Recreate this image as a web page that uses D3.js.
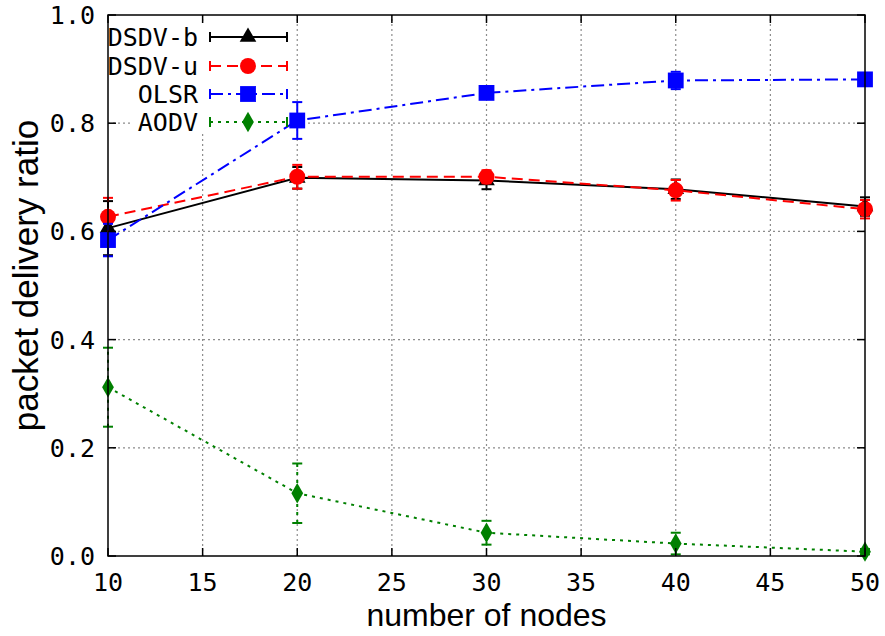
<!DOCTYPE html>
<html>
<head>
<meta charset="utf-8">
<script src="https://cdn.jsdelivr.net/npm/d3@7/dist/d3.min.js"></script>
<style>
    html, body { margin: 0; padding: 0; background: #fff; }
    svg { display: block; }
</style>
</head>
<body>
<div id="chart"></div>
<script>
var nodes = [10, 20, 30, 40, 50];
var xTicks = [10, 15, 20, 25, 30, 35, 40, 45, 50];
var yTicks = [0.0, 0.2, 0.4, 0.6, 0.8, 1.0];

var dsdvB = [0.606, 0.699, 0.694, 0.678, 0.646];
var dsdvBErr = [0.050, 0.020, 0.016, 0.018, 0.017];
var dsdvU = [0.627, 0.701, 0.701, 0.676, 0.641];
var dsdvUErr = [0.035, 0.022, 0.012, 0.019, 0.017];
var olsr = [0.584, 0.805, 0.856, 0.879, 0.881];
var olsrErr = [0.030, 0.034, 0.008, 0.016, 0.006];
var aodv = [0.312, 0.116, 0.043, 0.023, 0.008];
var aodvErr = [0.073, 0.055, 0.022, 0.020, 0.005];

var seriesNames = ["DSDV-b", "DSDV-u", "OLSR", "AODV"];

var width = 885, height = 636;
// note: "top" is taken by window.top, so use plot* names
var plotLeft = 108, plotRight = 865, plotTop = 15, plotBottom = 556;
var monoFont = "'DejaVu Sans Mono', monospace";
var sansFont = "'Liberation Sans', Arial, sans-serif";

var series = [
    {name: seriesNames[0], values: dsdvB, err: dsdvBErr, color: "#000000", dash: null, symbol: d3.symbolTriangle, size: 120},
    {name: seriesNames[1], values: dsdvU, err: dsdvUErr, color: "#ff0000", dash: "11,6", symbol: d3.symbolCircle, size: 200},
    {name: seriesNames[2], values: olsr, err: olsrErr, color: "#0000ff", dash: "13,5,3,5", symbol: d3.symbolSquare, size: 250},
    {name: seriesNames[3], values: aodv, err: aodvErr, color: "#008000", dash: "3,5", symbol: d3.symbolDiamond, size: 120}
];

var x = d3.scaleLinear().domain([10, 50]).range([plotLeft, plotRight]);
var y = d3.scaleLinear().domain([0, 1]).range([plotBottom, plotTop]);

var svg = d3.select("#chart").append("svg")
    .attr("width", width)
    .attr("height", height);

// grid
var grid = svg.append("g")
    .attr("stroke", "#8c8c8c")
    .attr("stroke-width", 1.2)
    .attr("stroke-dasharray", "2,3");
grid.selectAll("line.gx").data(xTicks.slice(1, -1)).enter().append("line")
    .attr("x1", function (d) { return x(d); }).attr("x2", function (d) { return x(d); })
    .attr("y1", plotBottom).attr("y2", plotTop);
grid.selectAll("line.gy").data(yTicks.slice(1, -1)).enter().append("line")
    .attr("y1", function (d) { return y(d); }).attr("y2", function (d) { return y(d); })
    .attr("x1", plotLeft).attr("x2", plotRight);

// opaque key box
var keyRows = [37, 66, 94, 122];
svg.append("rect")
    .attr("x", 133).attr("y", 21)
    .attr("width", 160).attr("height", 113)
    .attr("fill", "#fff");

var line = d3.line()
    .x(function (d, i) { return x(nodes[i]); })
    .y(function (d) { return y(d); });

var capW = 5;

series.forEach(function (s) {
    var g = svg.append("g");

    g.append("path")
        .datum(s.values)
        .attr("d", line)
        .attr("fill", "none")
        .attr("stroke", s.color)
        .attr("stroke-width", 2)
        .attr("stroke-dasharray", s.dash);

    var eb = g.selectAll("g.err").data(s.values).enter().append("g")
        .attr("stroke", s.color)
        .attr("stroke-width", 2);
    eb.append("line")
        .attr("x1", function (d, i) { return x(nodes[i]); })
        .attr("x2", function (d, i) { return x(nodes[i]); })
        .attr("y1", function (d, i) { return y(d - s.err[i]); })
        .attr("y2", function (d, i) { return y(d + s.err[i]); })
        .attr("stroke-dasharray", s.dash);
    eb.append("line")
        .attr("x1", function (d, i) { return x(nodes[i]) - capW; })
        .attr("x2", function (d, i) { return x(nodes[i]) + capW; })
        .attr("y1", function (d, i) { return y(d - s.err[i]); })
        .attr("y2", function (d, i) { return y(d - s.err[i]); });
    eb.append("line")
        .attr("x1", function (d, i) { return x(nodes[i]) - capW; })
        .attr("x2", function (d, i) { return x(nodes[i]) + capW; })
        .attr("y1", function (d, i) { return y(d + s.err[i]); })
        .attr("y2", function (d, i) { return y(d + s.err[i]); });

    g.selectAll("path.pt").data(s.values).enter().append("path")
        .attr("d", d3.symbol().type(s.symbol).size(s.size))
        .attr("transform", function (d, i) { return "translate(" + x(nodes[i]) + "," + y(d) + ")"; })
        .attr("fill", s.color);
});

// legend
var key = svg.append("g");
series.forEach(function (s, i) {
    var ky = keyRows[i];
    key.append("text")
        .attr("x", 198).attr("y", ky)
        .attr("dy", "0.36em")
        .attr("text-anchor", "end")
        .attr("font-family", monoFont)
        .attr("font-size", 25)
        .text(s.name);
    key.append("line")
        .attr("x1", 210).attr("x2", 287)
        .attr("y1", ky).attr("y2", ky)
        .attr("stroke", s.color).attr("stroke-width", 2)
        .attr("stroke-dasharray", s.dash);
    [210, 287].forEach(function (cx) {
        key.append("line")
            .attr("x1", cx).attr("x2", cx)
            .attr("y1", ky - 5).attr("y2", ky + 5)
            .attr("stroke", s.color).attr("stroke-width", 2);
    });
    key.append("path")
        .attr("d", d3.symbol().type(s.symbol).size(s.size))
        .attr("transform", "translate(248," + ky + ")")
        .attr("fill", s.color);
});

// frame and inward ticks
var tickLen = 8;
var axes = svg.append("g").attr("stroke", "#000").attr("stroke-width", 1.5);
axes.append("rect")
    .attr("x", plotLeft).attr("y", plotTop)
    .attr("width", plotRight - plotLeft).attr("height", plotBottom - plotTop)
    .attr("fill", "none");
xTicks.forEach(function (t) {
    axes.append("line").attr("x1", x(t)).attr("x2", x(t)).attr("y1", plotBottom).attr("y2", plotBottom - tickLen);
    axes.append("line").attr("x1", x(t)).attr("x2", x(t)).attr("y1", plotTop).attr("y2", plotTop + tickLen);
});
yTicks.forEach(function (t) {
    axes.append("line").attr("y1", y(t)).attr("y2", y(t)).attr("x1", plotLeft).attr("x2", plotLeft + tickLen);
    axes.append("line").attr("y1", y(t)).attr("y2", y(t)).attr("x1", plotRight).attr("x2", plotRight - tickLen);
});

// tick labels
svg.append("g").selectAll("text").data(xTicks).enter().append("text")
    .attr("x", function (d) { return x(d); })
    .attr("y", 591)
    .attr("text-anchor", "middle")
    .attr("font-family", monoFont)
    .attr("font-size", 25)
    .text(function (d) { return d; });

svg.append("g").selectAll("text").data(yTicks).enter().append("text")
    .attr("x", 95)
    .attr("y", function (d) { return y(d); })
    .attr("dy", "0.36em")
    .attr("text-anchor", "end")
    .attr("font-family", monoFont)
    .attr("font-size", 25)
    .text(function (d) { return d3.format(".1f")(d); });

// axis titles
svg.append("text")
    .attr("x", (plotLeft + plotRight) / 2)
    .attr("y", 626)
    .attr("text-anchor", "middle")
    .attr("font-family", sansFont)
    .attr("font-size", 32)
    .text("number of nodes");

svg.append("text")
    .attr("transform", "translate(38," + ((plotTop + plotBottom) / 2 - 10) + ") rotate(-90)")
    .attr("text-anchor", "middle")
    .attr("font-family", sansFont)
    .attr("font-size", 35)
    .text("packet delivery ratio");
</script>
</body>
</html>
